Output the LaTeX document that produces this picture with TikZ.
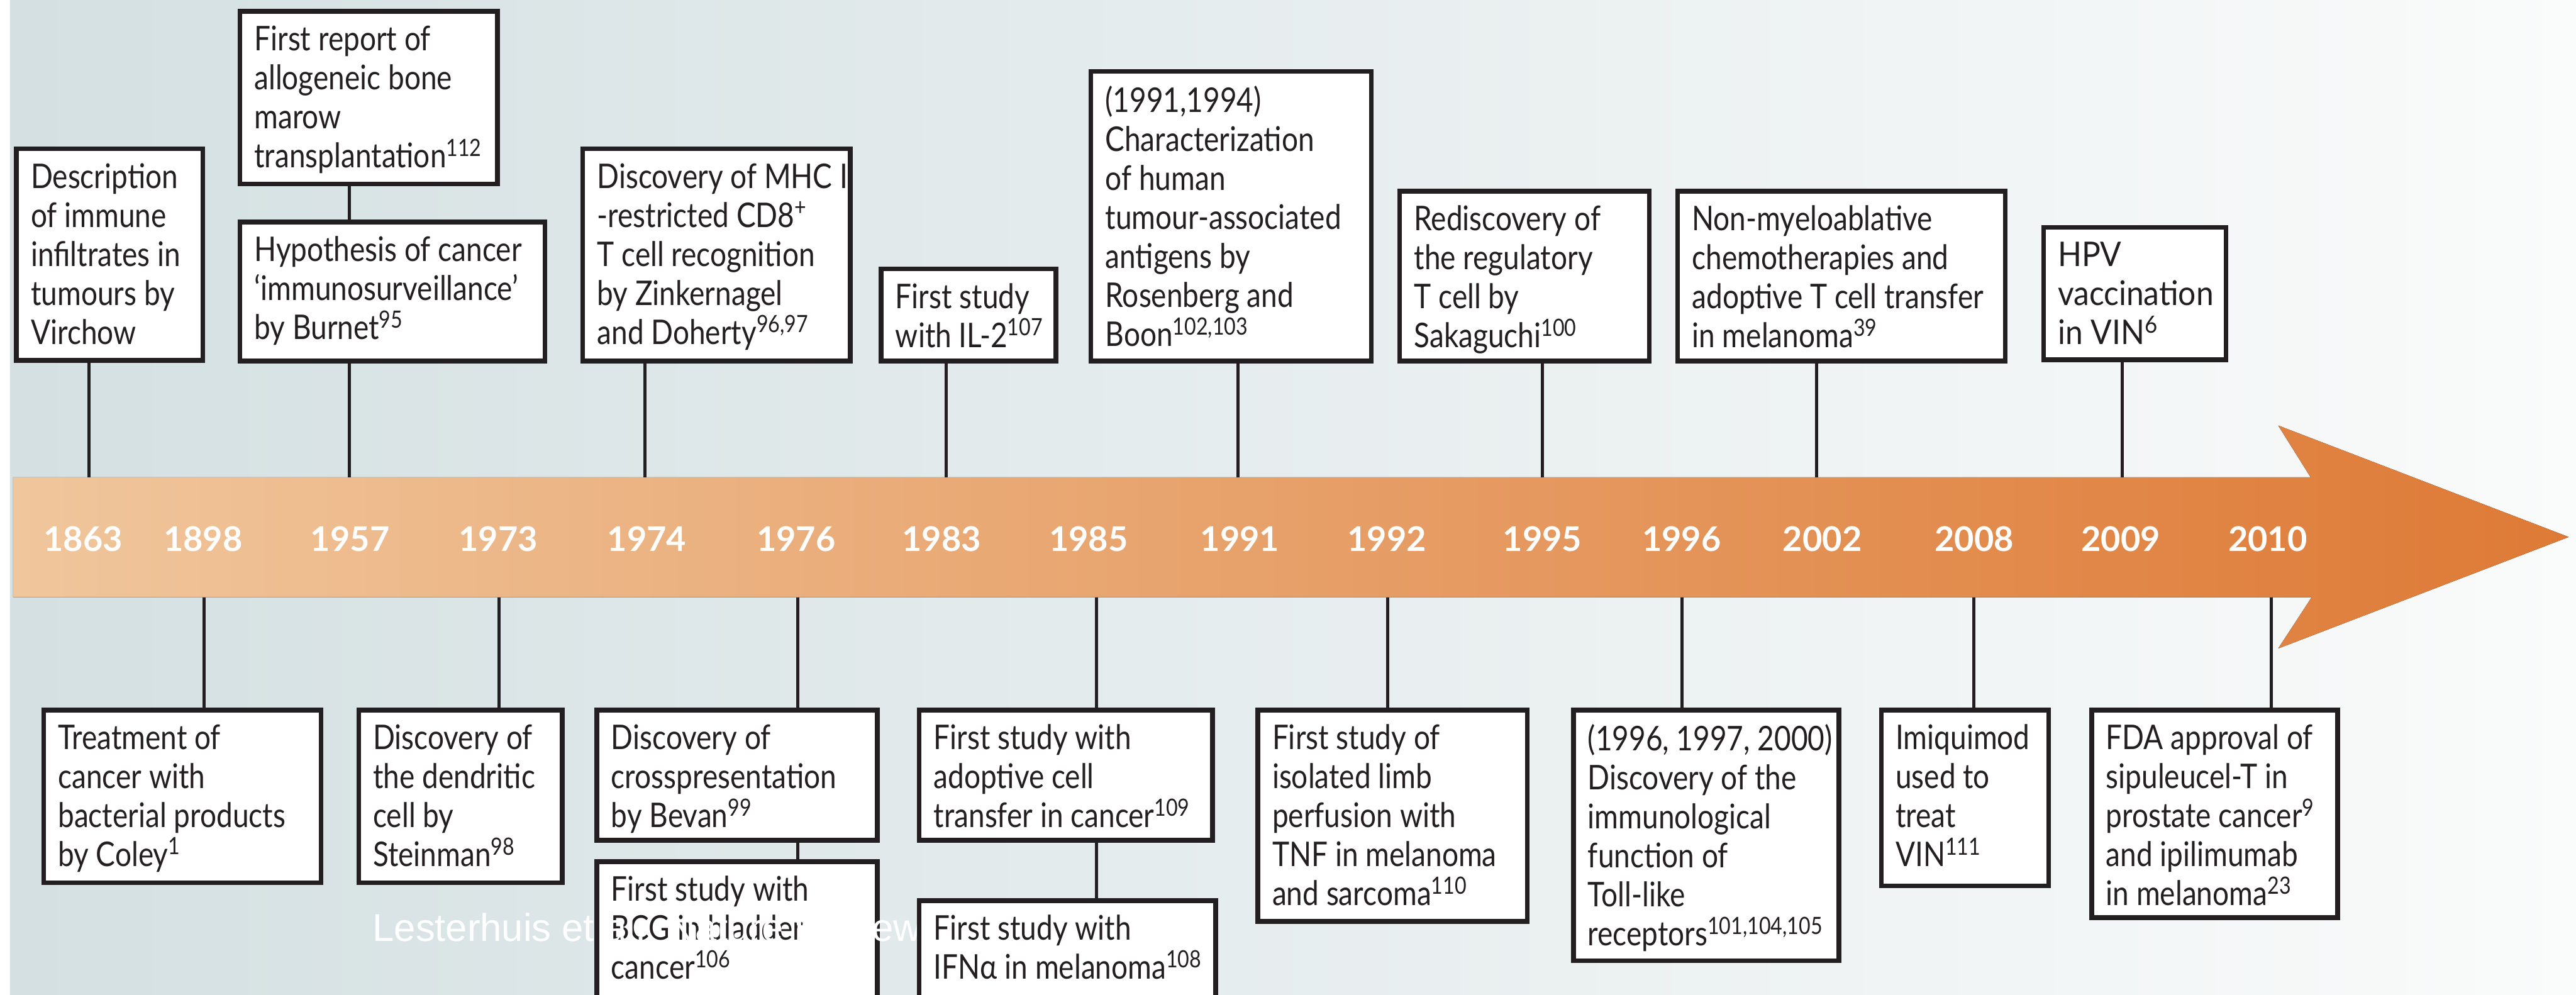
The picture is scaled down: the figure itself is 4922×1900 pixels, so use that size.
\documentclass[tikz,border=0pt]{standalone}
\usepackage{fontspec}
\setmainfont{Lato}[FakeStretch=0.85]
\newfontfamily\plainfont{Lato}
\newfontfamily\hpvfont{Lato}[FakeStretch=0.92]
\newfontfamily\wmfont{Liberation Sans}
\definecolor{bgL}{RGB}{212,224,226}
\definecolor{bgR}{RGB}{250,251,251}
\definecolor{bandL}{RGB}{240,198,156}
\definecolor{bandR}{RGB}{222,122,54}
\definecolor{ink}{RGB}{35,31,32}
\tikzset{
  evframe/.style={draw=ink, line width=1.8pt, fill=white, inner sep=0pt},
  evtext/.style={font=\fontsize{13}{14.9}\selectfont, align=left, inner sep=0pt, text=ink, anchor=north west},
  conn/.style={draw=ink, line width=1.2pt},
  yr/.style={font=\plainfont\bfseries\fontsize{13}{13}\selectfont, text=white, inner sep=0pt},
}
% name, x1, y1, x2, y2, extra text options, text
\newcommand\evbox[7]{%
  \node[evframe, minimum width={(#4-#2)*0.2pt-1.8pt}, minimum height={(#5-#3)*0.2pt-1.8pt}] (#1) at ({(#2+#4)/2},{(#3+#5)/2}) {};
  \node[evtext, #6] (#1-t) at ({#2+31},{#3+31}) {#7};
}
\begin{document}
\begin{tikzpicture}[x=0.2pt, y=-0.2pt]
\useasboundingbox (0,0) rectangle (4922,1900);
\clip (0,0) rectangle (4922,1900);
% background
\fill[white] (0,0) rectangle (4922,1900);
\fill[left color=bgL, right color=bgR] (19,0) rectangle (4922,1900);
% arrow band
\fill[left color=bandL, right color=bandR] (25,912) -- (4415,912) -- (4353,813) -- (4908,1026) -- (4353,1239) -- (4417,1141) -- (25,1141) -- cycle;
% connector anchor points on the band
\coordinate (k1863) at (170,912);
\coordinate (k1957) at (668,912);
\coordinate (k1974) at (1232,912);
\coordinate (k1983) at (1808,912);
\coordinate (k1991) at (2365,912);
\coordinate (k1995) at (2947,912);
\coordinate (k2002) at (3471,912);
\coordinate (k2009) at (4055,912);
\coordinate (k1898) at (390,1141);
\coordinate (k1973) at (954,1141);
\coordinate (k1976) at (1524,1141);
\coordinate (k1985) at (2095,1141);
\coordinate (k1992) at (2651,1141);
\coordinate (k1996) at (3214,1141);
\coordinate (k2008) at (3771,1141);
\coordinate (k2010) at (4340,1141);
% years
\node[yr] (y1863) at (159,1030) {1863};
\node[yr] (y1898) at (388,1030) {1898};
\node[yr] (y1957) at (669,1030) {1957};
\node[yr] (y1973) at (952,1030) {1973};
\node[yr] (y1974) at (1236,1030) {1974};
\node[yr] (y1976) at (1521,1030) {1976};
\node[yr] (y1983) at (1799,1030) {1983};
\node[yr] (y1985) at (2080,1030) {1985};
\node[yr] (y1991) at (2369,1030) {1991};
\node[yr] (y1992) at (2650,1030) {1992};
\node[yr] (y1995) at (2947,1030) {1995};
\node[yr] (y1996) at (3213,1030) {1996};
\node[yr] (y2002) at (3482,1030) {2002};
\node[yr] (y2008) at (3772,1030) {2008};
\node[yr] (y2009) at (4052,1030) {2009};
\node[yr] (y2010) at (4333,1030) {2010};
% boxes above
\evbox{desc}{27}{280}{392}{693}{}{Description\\of immune\\infiltrates in\\tumours by\\Virchow}
\evbox{frep}{454}{17}{955}{356}{}{First report of\\allogeneic bone\\marow\\transplantation\textsuperscript{112}}
\evbox{hyp}{454}{420}{1046}{694}{}{Hypothesis of cancer\\‘immunosurveillance’\\by Burnet\textsuperscript{95}}
\evbox{mhc}{1109}{280}{1629}{694}{}{Discovery of MHC I\\-restricted CD8\textsuperscript{+}\\T cell recognition\\by Zinkernagel\\and Doherty\textsuperscript{96,97}}
\evbox{il2}{1679}{509}{2022}{694}{}{First study\\with IL-2\textsuperscript{107}}
\evbox{chr}{2080}{132}{2625}{694}{}{(1991,1994)\\Characterization\\of human\\tumour-associated\\antigens by\\Rosenberg and\\Boon\textsuperscript{102,103}}
\evbox{treg}{2670}{361}{3156}{694}{}{Rediscovery of\\the regulatory\\T cell by\\Sakaguchi\textsuperscript{100}}
\evbox{nmy}{3201}{361}{3836}{694}{}{Non-myeloablative\\chemotherapies and\\adoptive T cell transfer\\in melanoma\textsuperscript{39}}
\evbox{hpv}{3900}{430}{4258}{692}{font=\hpvfont\fontsize{13}{14.9}\selectfont}{HPV\\vaccination\\in VIN\textsuperscript{6}}
% boxes below
\evbox{coley}{79}{1352}{618}{1691}{}{Treatment of\\cancer with\\bacterial products\\by Coley\textsuperscript{1}}
\evbox{dc}{681}{1352}{1079}{1691}{}{Discovery of\\the dendritic\\cell by\\Steinman\textsuperscript{98}}
\evbox{bevan}{1136}{1352}{1681}{1610}{}{Discovery of\\crosspresentation\\by Bevan\textsuperscript{99}}
\evbox{bcg}{1136}{1642}{1681}{1960}{}{First study with\\BCG in bladder\\cancer\textsuperscript{106}}
\evbox{act}{1752}{1352}{2321}{1610}{}{First study with\\adoptive cell\\transfer in cancer\textsuperscript{109}}
\evbox{tnf}{2399}{1352}{2923}{1765}{}{First study of\\isolated limb\\perfusion with\\TNF in melanoma\\and sarcoma\textsuperscript{110}}
\evbox{tlr}{3002}{1352}{3518}{1840}{}{(1996, 1997, 2000)\\Discovery of the\\immunological\\function of\\Toll-like\\receptors\textsuperscript{101,104,105}}
\evbox{imq}{3590}{1352}{3919}{1697}{}{Imiquimod\\used to\\treat\\VIN\textsuperscript{111}}
\evbox{fda}{3992}{1352}{4471}{1758}{}{FDA approval of\\sipuleucel-T in\\prostate cancer\textsuperscript{9}\\and ipilimumab\\in melanoma\textsuperscript{23}}
% connectors (box to band, box to box)
\draw[conn] (desc.south -| k1863) -- (k1863);
\draw[conn] (frep.south -| k1957) -- (hyp.north -| k1957);
\draw[conn] (hyp.south -| k1957) -- (k1957);
\draw[conn] (mhc.south -| k1974) -- (k1974);
\draw[conn] (il2.south -| k1983) -- (k1983);
\draw[conn] (chr.south -| k1991) -- (k1991);
\draw[conn] (treg.south -| k1995) -- (k1995);
\draw[conn] (nmy.south -| k2002) -- (k2002);
\draw[conn] (hpv.south -| k2009) -- (k2009);
\draw[conn] (k1898) -- (k1898 |- coley.north);
\draw[conn] (k1973) -- (k1973 |- dc.north);
\draw[conn] (k1976) -- (k1976 |- bevan.north);
\draw[conn] (bevan.south -| k1976) -- (bcg.north -| k1976);
\draw[conn] (k1985) -- (k1985 |- act.north);
\draw[conn] (k1992) -- (k1992 |- tnf.north);
\draw[conn] (k1996) -- (k1996 |- tlr.north);
\draw[conn] (k2008) -- (k2008 |- imq.north);
\draw[conn] (k2010) -- (k2010 |- fda.north);
% watermark
\node[anchor=base west, font=\wmfont\fontsize{14.8}{16}\selectfont, text=white, inner sep=0pt] (wm) at (711,1798) {Lesterhuis et al., Nature Review,};
% box drawn over the watermark
\evbox{ifn}{1752}{1716}{2327}{1960}{}{First study with\\IFNα in melanoma\textsuperscript{108}}
\draw[conn] (act.south -| k1985) -- (ifn.north -| k1985);
\end{tikzpicture}
\end{document}
